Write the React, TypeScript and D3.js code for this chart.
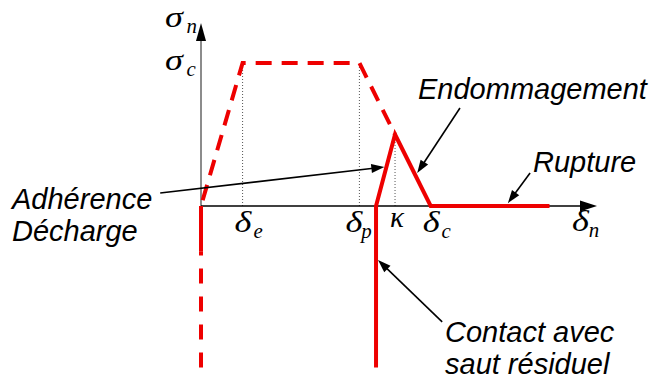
import React from "react";
import * as d3 from "d3";

// Normal cohesive law: envelope, cyclic response and annotations.
const W = 651;
const H = 379;

// Envelope (dashed): origin → δe → δp → κ
const envelopeDelta = [0, 10.5, 40, 49];
const envelopeSigma = [0, 1, 1, 0.5];

// Unloading branch at the origin (solid stub, then dashed)
const adhesionDelta = [0, 0];
const adhesionSigma = [0, -0.32];
const unloadDelta = [0, 0];
const unloadSigma = [-1.13, -0.32];

// Actual response (solid): residual jump, reloading, damage, rupture
const responseDelta = [44.2, 44.2, 49, 58, 88];
const responseSigma = [-1.13, 0, 0.5, 0, 0];

// Guide lines from the axis up to the envelope
const guideDelta = [10.5, 40, 49];
const guideSigma = [1, 1, 0.5];

// Tick labels on the δn axis
const tickDelta = [10.5, 40, 49, 58];
const tickMain = ["δ", "δ", "κ", "δ"];
const tickSub = ["e", "p", "", "c"];

// Axis extents
const axisDeltaMax = 100;
const axisSigmaMax = 1.28;

// Annotations: text lines, arrow tail and arrow head (data units)
const noteLines = [["Endommagement"], ["Rupture"], ["Adhérence", "Décharge"], ["Contact avec", "saut résiduel"]];
const noteTail = [[65.4, 0.685], [83.1, 0.231], [-10.3, 0.091], [60.9, -0.81]];
const noteHead = [[54.6, 0.231], [77.5, 0.02], [46.3, 0.273], [44.7, -0.378]];
const noteX = [418, 533, 12, 445];
const noteY = [99, 172, 209, 342];

const x = d3.scaleLinear().domain([0, 100]).range([201, 597]);
const y = d3.scaleLinear().domain([0, 1]).range([206, 63]);

const RED = "#ee0000";
const GREEK = "'Liberation Serif', 'DejaVu Serif', serif";
const SANS = "'Liberation Sans', Arial, sans-serif";

const line = d3
  .line<[number, number]>()
  .x((d) => x(d[0]))
  .y((d) => y(d[1]));

const zip = (a: number[], b: number[]) => a.map((v, i) => [v, b[i]] as [number, number]);

function arrowHead(x1: number, y1: number, x2: number, y2: number, len: number, half: number) {
  const a = Math.atan2(y2 - y1, x2 - x1);
  const bx = x2 - len * Math.cos(a);
  const by = y2 - len * Math.sin(a);
  const px = -Math.sin(a) * half;
  const py = Math.cos(a) * half;
  return `M${x2},${y2}L${bx + px},${by + py}L${bx - px},${by - py}Z`;
}

// Greek symbol with an optional subscript, slightly widened like a Symbol face
function Greek({
  gx,
  gy,
  main,
  sub,
  size,
  subDx = 0.68,
}: {
  gx: number;
  gy: number;
  main: string;
  sub?: string;
  size: number;
  subDx?: number;
}) {
  return (
    <g transform={`translate(${gx},${gy})`}>
      <text transform="scale(1.25,1)" x={0} y={0} fontFamily={GREEK} fontStyle="italic" fontSize={size}>
        {main}
      </text>
      {sub ? (
        <text x={size * subDx} y={size * 0.2} fontFamily={GREEK} fontStyle="italic" fontSize={size * 0.72}>
          {sub}
        </text>
      ) : null}
    </g>
  );
}

export default function App() {
  const x0 = x(0);
  const y0 = y(0);
  const xEnd = x(axisDeltaMax);
  const yTop = y(axisSigmaMax);

  return (
    <div style={{ position: "fixed", left: 0, top: 0, background: "#fff" }}>
      <svg width={W} height={H} viewBox={`0 0 ${W} ${H}`}>
        <rect width={W} height={H} fill="#fff" />

        {/* guide lines */}
        {guideDelta.map((d, i) => (
          <line
            key={"g" + i}
            x1={x(d)}
            x2={x(d)}
            y1={y0}
            y2={y(guideSigma[i])}
            stroke="#555"
            strokeWidth={1}
            strokeDasharray="1,2"
          />
        ))}

        {/* axes */}
        <line x1={x0} x2={x0} y1={y0} y2={yTop + 14} stroke="#666" strokeWidth={1.5} />
        <path d={arrowHead(x0, y0, x0, yTop, 18, 5)} fill="#000" />
        <line x1={x0} x2={xEnd - 14} y1={y0} y2={y0} stroke="#000" strokeWidth={1.5} />
        <path d={arrowHead(x0, y0, xEnd, y0, 17, 5.5)} fill="#000" />

        {/* envelope */}
        <path
          d={line(zip(envelopeDelta, envelopeSigma)) || ""}
          fill="none"
          stroke={RED}
          strokeWidth={4}
          strokeDasharray="16,10"
          strokeDashoffset={-6}
        />
        <path d={line(zip(adhesionDelta, adhesionSigma)) || ""} fill="none" stroke={RED} strokeWidth={4} />
        <path
          d={line(zip(unloadDelta, unloadSigma)) || ""}
          fill="none"
          stroke={RED}
          strokeWidth={4}
          strokeDasharray="15,13"
        />

        {/* response */}
        <path
          d={line(zip(responseDelta, responseSigma)) || ""}
          fill="none"
          stroke={RED}
          strokeWidth={4}
          strokeLinejoin="miter"
        />

        {/* axis titles */}
        <Greek gx={165} gy={27} main="σ" sub="n" size={29} subDx={0.74} />
        <Greek gx={165} gy={70} main="σ" sub="c" size={29} subDx={0.74} />
        <Greek gx={572} gy={231} main="δ" sub="n" size={29} subDx={0.58} />

        {/* tick labels */}
        {tickDelta.map((d, i) =>
          tickSub[i] ? (
            <Greek
              key={"t" + i}
              gx={x(d) - (tickSub[i] === "p" ? 14 : 8)}
              gy={232}
              main={tickMain[i]}
              sub={tickSub[i]}
              size={29}
              subDx={tickSub[i] === "p" ? 0.55 : 0.65}
            />
          ) : (
            <text
              key={"t" + i}
              x={x(d) + 2}
              y={227}
              textAnchor="middle"
              fontFamily={GREEK}
              fontStyle="italic"
              fontSize={29}
            >
              {tickMain[i]}
            </text>
          )
        )}

        {/* annotations */}
        {noteLines.map((lines, i) => {
          const tx = x(noteTail[i][0]);
          const ty = y(noteTail[i][1]);
          const hx = x(noteHead[i][0]);
          const hy = y(noteHead[i][1]);
          const a = Math.atan2(hy - ty, hx - tx);
          return (
            <g key={"n" + i}>
              <line x1={tx} y1={ty} x2={hx - 11 * Math.cos(a)} y2={hy - 11 * Math.sin(a)} stroke="#000" strokeWidth={1.6} />
              <path d={arrowHead(tx, ty, hx, hy, 13, 4.5)} fill="#000" />
              {lines.map((s, j) => (
                <text
                  key={j}
                  x={noteX[i]}
                  y={noteY[i] + j * 32}
                  fontFamily={SANS}
                  fontStyle="italic"
                  fontSize={29}
                  fill="#000"
                >
                  {s}
                </text>
              ))}
            </g>
          );
        })}
      </svg>
    </div>
  );
}
